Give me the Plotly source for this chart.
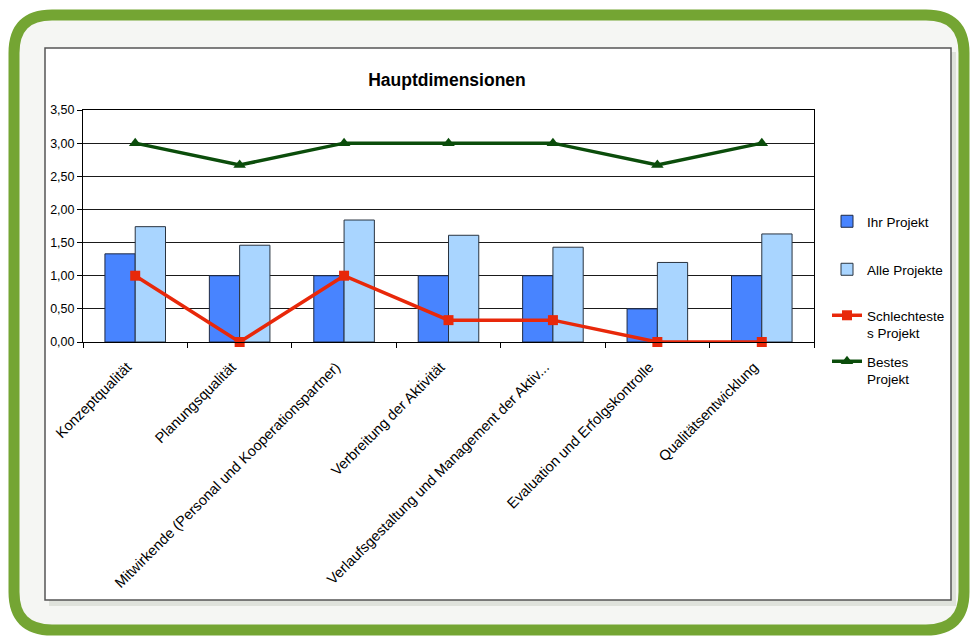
import plotly.graph_objects as go

categories = [
    "Konzeptqualität",
    "Planungsqualität",
    "Mitwirkende (Personal und Kooperationspartner)",
    "Verbreitung der Aktivität",
    "Verlaufsgestaltung und Management der Aktiv...",
    "Evaluation und Erfolgskontrolle",
    "Qualitätsentwicklung",
]
ihr_projekt = [1.33, 1.00, 1.00, 1.00, 1.00, 0.50, 1.00]
alle_projekte = [1.74, 1.46, 1.84, 1.61, 1.43, 1.20, 1.63]
schlechtestes = [1.00, 0.00, 1.00, 0.33, 0.33, 0.00, 0.00]
bestes = [3.00, 2.67, 3.00, 3.00, 3.00, 2.67, 3.00]
y_ticks = [0, 0.5, 1.0, 1.5, 2.0, 2.5, 3.0, 3.5]

W, H = 972, 636
L, R, T, B = 83, 814, 110, 342  # plot area in pixels


def px(x):
    return (x - L) / (R - L)


def py(y):
    return (B - y) / (B - T)


def rounded_rect(x0, y0, x1, y1, r):
    pts = [
        f"M {px(x0 + r)} {py(y0)}",
        f"L {px(x1 - r)} {py(y0)}",
        f"Q {px(x1)} {py(y0)} {px(x1)} {py(y0 + r)}",
        f"L {px(x1)} {py(y1 - r)}",
        f"Q {px(x1)} {py(y1)} {px(x1 - r)} {py(y1)}",
        f"L {px(x0 + r)} {py(y1)}",
        f"Q {px(x0)} {py(y1)} {px(x0)} {py(y1 - r)}",
        f"L {px(x0)} {py(y0 + r)}",
        f"Q {px(x0)} {py(y0)} {px(x0 + r)} {py(y0)}",
        "Z",
    ]
    return " ".join(pts)


FONT = "Liberation Sans, Arial, sans-serif"

fig = go.Figure()
fig.add_trace(go.Bar(
    x=categories, y=ihr_projekt, name="Ihr Projekt",
    marker=dict(color="#4884ff", line=dict(color="#1f2a44", width=1)),
    legend="legend",
))
fig.add_trace(go.Bar(
    x=categories, y=alle_projekte, name="Alle Projekte",
    marker=dict(color="#a9d5ff", line=dict(color="#2a3440", width=1)),
    legend="legend2",
))
fig.add_trace(go.Scatter(
    x=categories, y=schlechtestes, name="Schlechteste<br>s Projekt",
    mode="lines+markers",
    line=dict(color="#e8280a", width=3.5),
    marker=dict(symbol="square", size=10, color="#e8280a"),
    cliponaxis=False, legend="legend3",
))
fig.add_trace(go.Scatter(
    x=categories, y=bestes, name="Bestes<br>Projekt",
    mode="lines+markers",
    line=dict(color="#0b4d0b", width=3.5),
    marker=dict(symbol="triangle-up", size=11, color="#0b4d0b"),
    cliponaxis=False, legend="legend4",
))

shapes = [
    # green frame
    dict(type="path", xref="paper", yref="paper", layer="below",
         path=rounded_rect(14, 15, 964, 630, 38),
         fillcolor="#f5f6f3", line=dict(color="#74a533", width=11)),
    # shadow of chart box
    dict(type="rect", xref="paper", yref="paper", layer="below",
         x0=px(49), x1=px(956), y0=py(52), y1=py(606),
         fillcolor="#dfe2db", line=dict(width=0)),
    # chart box
    dict(type="rect", xref="paper", yref="paper", layer="below",
         x0=px(45), x1=px(951), y0=py(48), y1=py(600),
         fillcolor="white", line=dict(color="#555555", width=1.5)),
]


def legend_at(top):
    return dict(x=px(827), y=py(top), xanchor="left", yanchor="top",
                font=dict(family=FONT, size=13.5, color="black"),
                bgcolor="rgba(0,0,0,0)", itemwidth=30, valign="top")


fig.update_layout(
    width=W, height=H,
    margin=dict(l=L, r=W - R, t=T, b=H - B),
    paper_bgcolor="white",
    plot_bgcolor="#ebeae8",
    barmode="group", bargap=0.42, bargroupgap=0,
    separators=",.",
    font=dict(family=FONT, size=12, color="black"),
    title=dict(text="<b>Hauptdimensionen</b>", x=447 / W, xanchor="center",
               y=1 - 80 / H, yanchor="middle",
               font=dict(family=FONT, size=17.5, color="black")),
    shapes=shapes,
    showlegend=True,
    legend=legend_at(206),
    legend2=legend_at(254),
    legend3=legend_at(300),
    legend4=legend_at(346),
)
fig.update_xaxes(
    type="category", tickangle=-45, tickson="boundaries",
    ticks="outside", ticklen=5, tickcolor="black",
    showline=True, linecolor="black", linewidth=1, mirror=True,
    showgrid=False, ticklabelstandoff=10, ticklabelshift=-8,
    tickfont=dict(family=FONT, size=14.5, color="black"),
)
fig.update_yaxes(
    range=[0, 3.5], tickvals=y_ticks, tickformat=".2f",
    ticks="outside", ticklen=5, tickcolor="black",
    showline=True, linecolor="black", linewidth=1, mirror=True,
    showgrid=True, gridcolor="#1a1a1a", gridwidth=1,
    zeroline=False,
    tickfont=dict(family=FONT, size=12.5, color="black"),
)

fig.write_html("out.html")
